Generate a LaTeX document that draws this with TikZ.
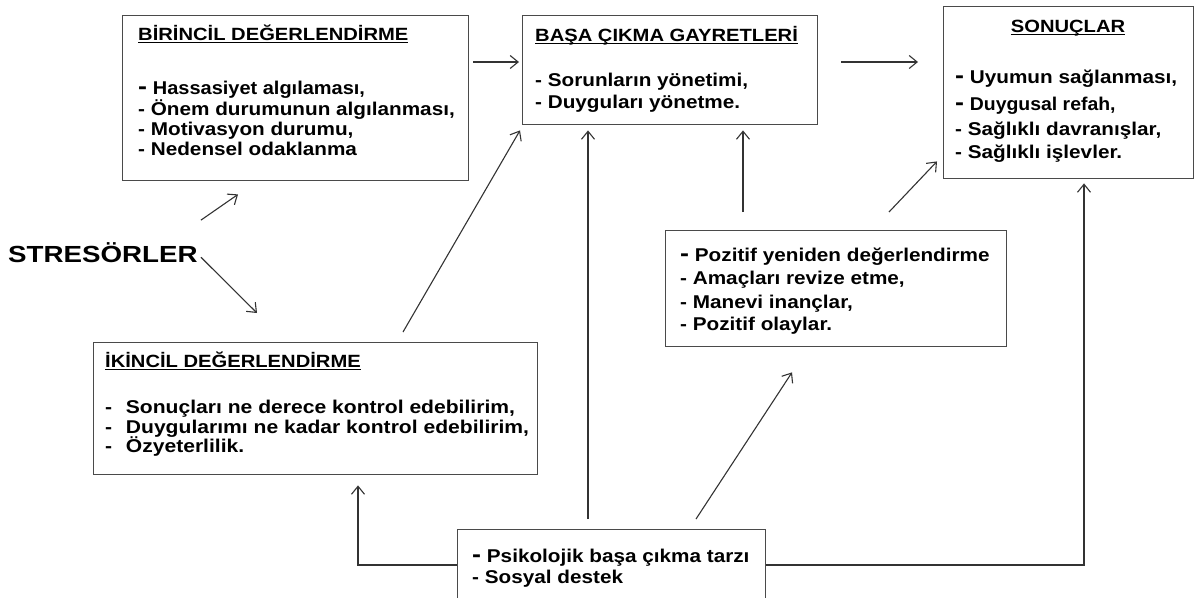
\documentclass[tikz,border=0pt]{standalone}
\usepackage{fontspec}
\usepackage{graphicx}
\setmainfont{Liberation Sans}
\usetikzlibrary{arrows.meta,calc}
\definecolor{boxgray}{HTML}{4A4A4A}
\definecolor{linegray}{HTML}{333333}
% lettering is set a little wider than the face's natural width
\newcommand\wide[2][1.12]{\scalebox{#1}[1]{#2}}
% larger leading dash used on some list lines
\newcommand\bigdash{{\fontsize{24}{20}\selectfont -}}
% underlined heading with the rule at a fixed depth
\newcommand\headul[1]{\setbox0\hbox{#1}\rlap{\rule[-3pt]{\wd0}{1.3pt}}\box0}
\begin{document}
\begin{tikzpicture}[x=1pt,y=-1pt,
  box/.style={draw=boxgray, line width=1.4pt, rectangle, inner sep=0pt, anchor=north west},
  link/.style={draw=linegray, line width=1.1pt},
  arr/.style={link, -{Straight Barb[length=8pt,width=13pt,line width=1.1pt]}},
  txt/.style={anchor=base west, inner sep=0pt, font=\bfseries\fontsize{18.5}{20}\selectfont},
  ttl/.style={txt, font=\bfseries\fontsize{17.7}{20}\selectfont},
]
\useasboundingbox (0,0) rectangle (1198,597);

% boxes
\node[box, minimum width=346pt, minimum height=165pt] (b1) at (122,15) {};
\node[box, minimum width=295pt, minimum height=109pt] (b2) at (522,15) {};
\node[box, minimum width=250pt, minimum height=172pt] (b3) at (943,6) {};
\node[box, minimum width=444pt, minimum height=132pt] (b4) at (93,342) {};
\node[box, minimum width=341pt, minimum height=116pt] (b5) at (665,230) {};
\node[box, minimum width=308pt, minimum height=84pt] (b6) at (457,529) {};

% primary appraisal
\node[ttl] (b1h) at (138,40) {\headul{\wide[1.14]{BİRİNCİL DEĞERLENDİRME}}};
\node[txt] (b1a) at (138,94) {\wide{\bigdash\ }\wide[1.08]{Hassasiyet algılaması,}};
\node[txt] (b1b) at (138,115) {\wide{- Önem durumunun algılanması,}};
\node[txt] (b1c) at (138,135) {\wide{- Motivasyon durumu,}};
\node[txt] (b1d) at (138,155) {\wide{- Nedensel odaklanma}};

% coping efforts
\node[ttl] (b2h) at (535,41) {\headul{\wide[1.14]{BAŞA ÇIKMA GAYRETLERİ}}};
\node[txt] (b2a) at (535,86) {\wide{- Sorunların yönetimi,}};
\node[txt] (b2b) at (535,108) {\wide{- Duyguları yönetme.}};

% outcomes
\node[ttl, anchor=base] (b3h) at (1068,32) {\headul{\wide[1.14]{SONUÇLAR}}};
\node[txt] (b3a) at (955,83) {\wide{\bigdash\ Uyumun sağlanması,}};
\node[txt] (b3b) at (955,110) {\wide{\bigdash\ }\wide[1.05]{Duygusal refah,}};
\node[txt] (b3c) at (955,135) {\wide{- Sağlıklı davranışlar,}};
\node[txt] (b3d) at (955,158) {\wide{- Sağlıklı işlevler.}};

% secondary appraisal
\node[ttl] (b4h) at (105,367) {\headul{\wide[1.14]{İKİNCİL DEĞERLENDİRME}}};
\node[txt] (b4a) at (105,413) {\wide[1.14]{-\hspace{12pt}Sonuçları ne derece kontrol edebilirim,}};
\node[txt] (b4b) at (105,433) {\wide[1.14]{-\hspace{12pt}Duygularımı ne kadar kontrol edebilirim,}};
\node[txt] (b4c) at (105,452) {\wide[1.14]{-\hspace{12pt}Özyeterlilik.}};

% reappraisal
\node[txt] (b5a) at (680,261) {\wide{\bigdash\ Pozitif yeniden değerlendirme}};
\node[txt] (b5b) at (680,284) {\wide{- Amaçları revize etme,}};
\node[txt] (b5c) at (680,308) {\wide{- Manevi inançlar,}};
\node[txt] (b5d) at (680,330) {\wide{- Pozitif olaylar.}};

% coping resources
\node[txt] (b6a) at (472,562) {\wide{\bigdash\ Psikolojik başa çıkma tarzı}};
\node[txt] (b6b) at (472,583) {\wide{- Sosyal destek}};

% stressors
\node[txt, font=\bfseries\fontsize{23.3}{26}\selectfont] (st) at (8,262) {\wide[1.19]{STRESÖRLER}};

% connectors
\draw[arr] ($(b1.north east)+(4,47)$) -- ($(b2.north west)+(-3,47)$);
\draw[arr] ($(b2.north east)+(23,47)$) -- ($(b3.north west)+(-25,56)$);
\draw[arr] ($(st.east)+(3,-32)$) -- ($(b1.south west)+(116,13)$);
\draw[arr] ($(st.east)+(3,5)$) -- ($(b4.north west)+(164,-29)$);
\draw[arr] ($(b4.north west)+(310,-10)$) -- ($(b2.south west)+(-2,5)$);
\draw[arr] ($(b6.north west)+(0,36)$) -| ($(b4.south west)+(265,10)$);
\draw[arr] ($(b6.north west)+(131,-10)$) -- ($(b2.south west)+(66,5)$);
\draw[arr] ($(b6.north west)+(239,-10)$) -- ($(b5.south west)+(127,25)$);
\draw[arr] ($(b5.north west)+(78,-18)$) -- ($(b2.south west)+(221,5)$);
\draw[arr] ($(b5.north west)+(224,-18)$) -- ($(b3.south west)+(-6,-18)$);
\draw[arr] ($(b6.north east)+(0,36)$) -| ($(b3.south west)+(141,4)$);
\end{tikzpicture}
\end{document}
